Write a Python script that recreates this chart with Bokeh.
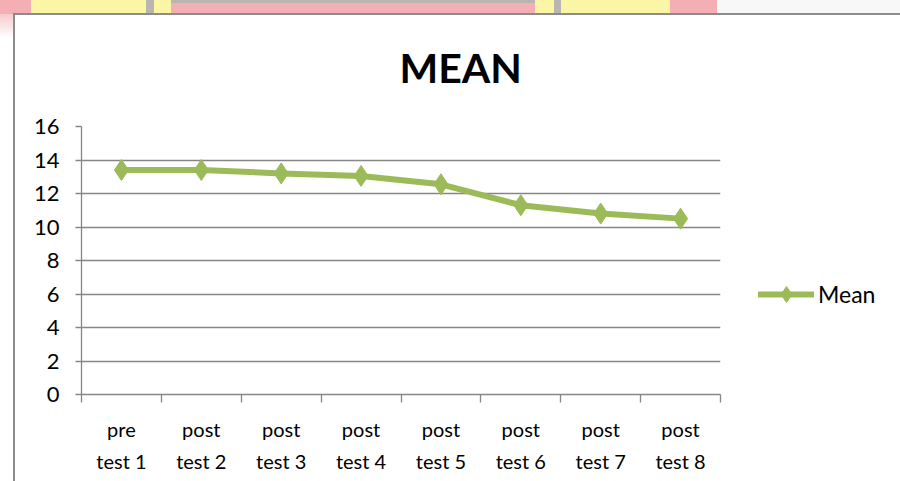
from bokeh.plotting import figure
from bokeh.models import FixedTicker, Legend, LegendItem, Range1d, ColumnDataSource
from bokeh.embed import file_html
from bokeh.resources import INLINE
import numpy as np

# ---- data ----
categories = ["pre\ntest 1", "post\ntest 2", "post\ntest 3", "post\ntest 4",
              "post\ntest 5", "post\ntest 6", "post\ntest 7", "post\ntest 8"]
mean_values = [13.4, 13.4, 13.2, 13.05, 12.55, 11.3, 10.8, 10.5]
y_ticks = [0, 2, 4, 6, 8, 10, 12, 14, 16]
series_name = "Mean"
chart_title = "MEAN"

GREEN = "#9BBB59"
GRID = "#868686"
FONT = "Lato"

xs = np.arange(len(categories)) + 0.5
src = ColumnDataSource(dict(x=xs, y=mean_values))

p = figure(frame_width=639, frame_height=268, output_backend="svg", toolbar_location=None,
           x_range=Range1d(0, len(categories)), y_range=Range1d(0, 16),
           min_border_left=81, min_border_right=180, min_border_top=126,
           min_border_bottom=87)
p.background_fill_color = "white"
p.border_fill_alpha = 0
p.outline_line_color = None

# page-like backdrop: decorative strip on top, chart box border
strip = ("linear-gradient(to right, #F4AFB5 0 31px, #FBF5A6 31px 146px, #B9B5B1 146px 154px, "
         "#FBF5A6 154px 171px, #F4AFB5 171px 535px, #FBF5A6 535px 554px, "
         "#B9B5B1 554px 561px, #FBF5A6 561px 670px, #F4AFB5 670px 717px, #F8F8F8 717px)")
p.styles = {
    "background": ("linear-gradient(#8C8C8C,#8C8C8C) 13px 13px / 2px 100% no-repeat, "
                   "linear-gradient(#8C8C8C,#8C8C8C) 13px 13px / 100% 2px no-repeat, "
                   "linear-gradient(#B9B5B1,#B9B5B1) 171px 0 / 364px 3px no-repeat, "
                   + strip + " 0 0 / 100% 14px no-repeat, "
                   "linear-gradient(#F6C9CC,#FFFFFF) 0 14px / 13px 24px no-repeat, white"),
}

# grid
p.xgrid.grid_line_color = None
p.ygrid.ticker = FixedTicker(ticks=y_ticks)
p.ygrid.grid_line_color = GRID
p.ygrid.grid_line_width = 1.3

# y axis
p.yaxis.ticker = FixedTicker(ticks=y_ticks)
p.yaxis.axis_line_color = GRID
p.yaxis.axis_line_width = 1.3
p.yaxis.major_tick_line_color = GRID
p.yaxis.major_tick_line_width = 1.3
p.yaxis.major_tick_in = 0
p.yaxis.major_tick_out = 6
p.yaxis.minor_tick_line_color = None
p.yaxis.major_label_text_font = FONT
p.yaxis.major_label_text_font_size = "22px"
p.yaxis.major_label_text_color = "black"
p.yaxis.major_label_standoff = 16

# x axis: labels at category centers, tick marks at category boundaries
p.xaxis.ticker = FixedTicker(ticks=list(xs), minor_ticks=list(range(len(categories) + 1)))
p.xaxis.major_label_overrides = {float(x): c for x, c in zip(xs, categories)}
p.xaxis.axis_line_color = GRID
p.xaxis.axis_line_width = 1.3
p.xaxis.major_tick_in = 0
p.xaxis.major_tick_out = 0
p.xaxis.minor_tick_in = 0
p.xaxis.minor_tick_out = 8
p.xaxis.minor_tick_line_color = GRID
p.xaxis.minor_tick_line_width = 1.3
p.xaxis.major_label_text_font = FONT
p.xaxis.major_label_text_font_size = "20px"
p.xaxis.major_label_text_line_height = 1.35
p.xaxis.major_label_text_color = "black"
p.xaxis.major_label_standoff = 14

# series
line_r = p.line("x", "y", source=src, line_color=GREEN, line_width=6,
                line_join="round", line_cap="round")
sc_r = p.scatter("x", "y", source=src, marker="diamond", size=21,
                 fill_color=GREEN, line_color=GREEN)

legend = Legend(items=[LegendItem(label=series_name, renderers=[line_r, sc_r])],
                location=(38, 80), orientation="vertical",
                glyph_width=56, glyph_height=40, label_standoff=4,
                padding=0, margin=0, spacing=0,
                border_line_color=None, background_fill_alpha=0,
                label_text_font=FONT, label_text_font_size="23px",
                label_text_color="black")
p.add_layout(legend, "right")

# title
p.title.text = chart_title
p.title.align = "left"
p.title.offset = 318
p.title.text_font = FONT
p.title.text_font_style = "bold"
p.title.text_font_size = "41px"
p.title.text_color = "black"
p.title.standoff = 69

open("out.html", "w").write(file_html(p, INLINE))
